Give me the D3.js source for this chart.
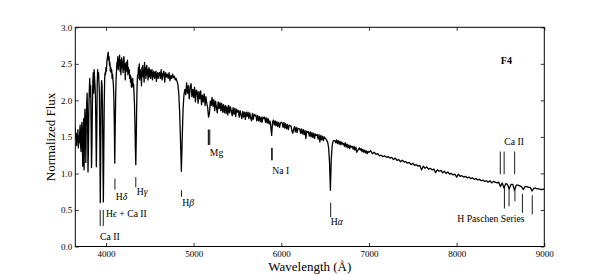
<!DOCTYPE html>
<html>
<head>
<meta charset="utf-8">
<script src="https://cdn.jsdelivr.net/npm/d3@7"></script>
<style>
  html, body { margin: 0; padding: 0; background: #fff; }
  svg { display: block; }
  text { font-family: "Liberation Serif", "DejaVu Serif", serif; fill: #000; }
</style>
</head>
<body>
<div id="chart"></div>
<script>
// ---------------- DATA ----------------
const blueStart = 3650, blueStep = 5;
const fluxBlue = [
  1.62,1.48,1.55,1.38,1.52,1.44,1.60,1.35,1.50,1.42,
  1.56,1.66,1.40,1.30,1.58,1.70,1.45,1.10,1.52,1.75,
  1.05,1.60,1.88,1.70,1.15,1.65,1.95,2.10,1.75,1.02,
  1.35,1.90,2.15,2.30,2.05,2.20,1.70,1.08,1.40,1.95,
  2.25,2.38,2.10,2.42,2.30,2.20,2.05,1.60,1.09,1.55,
  2.20,2.42,2.30,2.38,2.25,2.10,1.40,0.60,1.30,2.05,
  2.27,2.20,1.90,1.20,0.61,1.25,1.95,2.30,2.38,2.35,
  2.45,2.40,2.52,2.58,2.62,2.66,2.55,2.60,2.48,2.52,
  2.40,2.45,2.38,2.42,2.30,2.36,2.28,2.20,2.02,1.68,
  1.14,1.62,2.00,2.28,2.40,2.52,2.45,2.60,2.42,2.55,
  2.48,2.62,2.40,2.55,2.35,2.50,2.58,2.45,2.52,2.38,
  2.55,2.60,2.42,2.50,2.28,2.45,2.52,2.40,2.48,2.55,
  2.35,2.45,2.38,2.42,2.30,2.35,2.25,2.32,2.18,2.28,
  2.20,2.30,2.18,2.22,2.10,1.95,1.70,1.35,1.12,1.45,
  1.90,2.20,2.35,2.30,2.45,2.35,2.50,2.28,2.42,2.38,
  2.38,2.20,2.45,2.35,2.48,2.32,2.40,2.25,2.52,2.38,
  2.45,2.30,2.40,2.48,2.35,2.42,2.28,2.40,2.45,2.32,
  2.38,2.42,2.30,2.40,2.35,2.42,2.28,2.38,2.32,2.40,
  2.36,2.30,2.38,2.34,2.40,2.26,2.36,2.32,2.38,2.30,
  2.35
];
const greenStart = 4610, greenStep = 10;
const fluxGreen = [
  2.38,2.30,2.42,2.28,2.36,2.40,2.25,2.38,2.32,2.36,
  2.30,2.38,2.27,2.34,2.30,2.36,2.31,2.33,2.28,2.30,
  2.26,2.22,2.10,1.85,1.45,1.03,1.50,1.90,2.08,2.15,
  2.08,2.24,2.10,2.20,2.02,2.18,2.23,2.05,2.15,2.04,
  2.18,1.98,2.14,2.12,1.96,2.12,2.02,2.13,1.94,2.07,
  1.98,2.09,1.93,2.05,1.96,1.90,1.77,1.82,1.99,1.93,
  2.04,1.92,2.01,1.86,1.99,1.90,1.83,1.98,1.89,1.97,
  1.86,1.96,1.84,1.94,1.83,1.93,1.82,1.92,1.80,1.93,
  1.83,1.91,1.85,1.79,1.90,1.81,1.89,1.78,1.88,1.84,
  1.86,1.77,1.86,1.80,1.75,1.85,1.77,1.84,1.74,1.84,
  1.78,1.84,1.75,1.83,1.76,1.72,1.82,1.74,1.81,1.79,
  1.80,1.72,1.79,1.72,1.78,1.71,1.77,1.70,1.77,1.75,
  1.77,1.70,1.76,1.69,1.75,1.68,1.72,1.64,1.52,1.70,
  1.73,1.66,1.72,1.65,1.71,1.64,1.70,1.63,1.69,1.70,
  1.69,1.63,1.70,1.62,1.68,1.61,1.67,1.60,1.66,1.65,
  1.65,1.59,1.55,1.60,1.64,1.57,1.63,1.56,1.62,1.61,
  1.61,1.55,1.61,1.54,1.60,1.53,1.59,1.48,1.58,1.56,
  1.57,1.51,1.57,1.50,1.56,1.49,1.55,1.48,1.54,1.52,
  1.53,1.47,1.53,1.43,1.52,1.46,1.51,1.45,1.50,1.48,
  1.47,1.45,1.42,1.35,1.15,0.77,1.20,1.38,1.44,1.45,
  1.45,1.42,1.46,1.41,1.45,1.40,1.44,1.39,1.43,1.40,
  1.41,1.37,1.42,1.36,1.40,1.35,1.39,1.34,1.38,1.36,
  1.37,1.33,1.37,1.32,1.36,1.29,1.31,1.33,1.35,1.32,
  1.34,1.30,1.33,1.29,1.32,1.28,1.31,1.27,1.30,1.29
];
const redStart = 7020, redStep = 20;
const fluxRed = [
  1.31,1.27,1.29,1.26,1.27,1.24,1.25,1.23,1.24,1.22,
  1.23,1.21,1.22,1.19,1.21,1.18,1.19,1.16,1.18,1.16,
  1.16,1.14,1.15,1.12,1.14,1.11,1.12,1.10,1.11,1.05,
  1.10,1.07,1.09,1.06,1.07,1.05,1.06,1.01,1.05,1.03,
  1.04,1.01,1.03,1.00,1.02,0.99,1.00,0.98,0.99,0.95,
  0.99,0.96,0.97,0.95,0.96,0.94,0.95,0.93,0.94,0.92,
  0.93,0.91,0.92,0.90,0.91,0.89,0.90,0.88,0.90,0.87,
  0.89,0.88,0.87,0.88,0.82,0.87,0.80,0.86,0.85,0.79,
  0.85,0.85,0.77,0.84,0.84,0.83,0.82,0.78,0.82,0.82,
  0.81,0.81,0.76,0.80,0.80,0.79,0.79,0.78,0.78,0.79
];

// Line identification marks: wavelength, flux span
const lineMarks = [
  { wl: 3934, lo: 0.28, hi: 0.50 }, { wl: 3969, lo: 0.28, hi: 0.50 },
  { wl: 4102, lo: 0.78, hi: 0.93 },
  { wl: 4340, lo: 0.81, hi: 0.95 },
  { wl: 4861, lo: 0.68, hi: 0.77 },
  { wl: 5167, lo: 1.39, hi: 1.60 }, { wl: 5173, lo: 1.39, hi: 1.60 }, { wl: 5184, lo: 1.39, hi: 1.60 },
  { wl: 5890, lo: 1.18, hi: 1.35 }, { wl: 5896, lo: 1.18, hi: 1.35 },
  { wl: 6563, lo: 0.40, hi: 0.60 },
  { wl: 8498, lo: 0.99, hi: 1.30 }, { wl: 8542, lo: 0.99, hi: 1.30 }, { wl: 8662, lo: 0.99, hi: 1.30 },
  { wl: 8545, lo: 0.52, hi: 0.80 }, { wl: 8598, lo: 0.55, hi: 0.80 }, { wl: 8665, lo: 0.62, hi: 0.78 },
  { wl: 8750, lo: 0.46, hi: 0.72 }, { wl: 8863, lo: 0.44, hi: 0.70 }
];

// Labels: [plain prefix, italic greek, plain suffix], anchored at (wavelength, flux)
const lineLabels = [
  { pre: "Ca II", greek: "", post: "", wl: 3932, f: 0.09 },
  { pre: "H", greek: "\u03F5", post: " + Ca II", wl: 4000, f: 0.40 },
  { pre: "H", greek: "\u03B4", post: "", wl: 4110, f: 0.635 },
  { pre: "H", greek: "\u03B3", post: "", wl: 4350, f: 0.70 },
  { pre: "H", greek: "\u03B2", post: "", wl: 4870, f: 0.55 },
  { pre: "Mg", greek: "", post: "", wl: 5185, f: 1.24 },
  { pre: "Na I", greek: "", post: "", wl: 5897, f: 0.99 },
  { pre: "H", greek: "\u03B1", post: "", wl: 6565, f: 0.29 },
  { pre: "Ca II", greek: "", post: "", wl: 8543, f: 1.39 },
  { pre: "H Paschen Series", greek: "", post: "", wl: 8007, f: 0.34 }
];

const xTicks = [4000, 5000, 6000, 7000, 8000, 9000];
const yTicks = [0.0, 0.5, 1.0, 1.5, 2.0, 2.5, 3.0];
const spectralType = "F4";
const xTitle = "Wavelength (\u00C5)";
const yTitle = "Normalized Flux";

// ---------------- CHART ----------------
const W = 605, H = 275;
const plot = { left: 75.3, right: 544.3, top: 27.3, bottom: 246.5 };

const svg = d3.select("#chart").append("svg").attr("width", W).attr("height", H);

const x = d3.scaleLinear().domain([3650, 9000]).range([plot.left, plot.right]);
const y = d3.scaleLinear().domain([0, 3]).range([plot.bottom, plot.top]);

const spectrum = [];
fluxBlue.forEach((f, i) => spectrum.push([blueStart + i * blueStep, f]));
fluxGreen.forEach((f, i) => spectrum.push([greenStart + i * greenStep, f]));
fluxRed.forEach((f, i) => spectrum.push([redStart + i * redStep, f]));

svg.append("defs").append("clipPath").attr("id", "clip")
  .append("rect").attr("x", plot.left).attr("y", plot.top)
  .attr("width", plot.right - plot.left).attr("height", plot.bottom - plot.top);

svg.append("path")
  .datum(spectrum)
  .attr("clip-path", "url(#clip)")
  .attr("fill", "none")
  .attr("stroke", "#000")
  .attr("stroke-width", 1.3)
  .attr("stroke-linejoin", "round")
  .attr("d", d3.line().x(d => x(d[0])).y(d => y(d[1])));

// line marks
svg.append("g").selectAll("line").data(lineMarks).join("line")
  .attr("x1", d => x(d.wl)).attr("x2", d => x(d.wl))
  .attr("y1", d => y(d.lo)).attr("y2", d => y(d.hi))
  .attr("stroke", "#000").attr("stroke-width", 0.9);

// labels
const lbl = svg.append("g").selectAll("text").data(lineLabels).join("text")
  .attr("x", d => x(d.wl)).attr("y", d => y(d.f))
  .attr("font-size", 9.7);
lbl.append("tspan").text(d => d.pre);
lbl.filter(d => d.greek).append("tspan").attr("font-style", "italic").text(d => d.greek);
lbl.filter(d => d.post).append("tspan").text(d => d.post);

svg.append("text")
  .attr("x", x(8504)).attr("y", y(2.50))
  .attr("font-size", 10).attr("font-weight", "bold")
  .text(spectralType);

// axes
const tick = 3.5;
const gx = svg.append("g").attr("transform", `translate(0,${plot.bottom})`)
  .call(d3.axisBottom(x).tickValues(xTicks).tickFormat(d3.format("d"))
    .tickSize(-tick).tickSizeOuter(0).tickPadding(4));
const gxt = svg.append("g").attr("transform", `translate(0,${plot.top})`)
  .call(d3.axisTop(x).tickValues(xTicks).tickFormat("").tickSize(-tick).tickSizeOuter(0));
const gy = svg.append("g").attr("transform", `translate(${plot.left},0)`)
  .call(d3.axisLeft(y).tickValues(yTicks).tickFormat(d3.format(".1f"))
    .tickSize(-tick).tickSizeOuter(0).tickPadding(3));
const gyr = svg.append("g").attr("transform", `translate(${plot.right},0)`)
  .call(d3.axisRight(y).tickValues(yTicks).tickFormat("").tickSize(-tick).tickSizeOuter(0));

[gx, gxt, gy, gyr].forEach(g => {
  g.select(".domain").remove();
  g.selectAll(".tick line").attr("stroke", "#000").attr("stroke-width", 0.8);
  g.selectAll("text").attr("font-size", 9).attr("fill", "#000")
    .attr("font-family", '"Liberation Serif", "DejaVu Serif", serif');
});

svg.append("rect")
  .attr("x", plot.left).attr("y", plot.top)
  .attr("width", plot.right - plot.left).attr("height", plot.bottom - plot.top)
  .attr("fill", "none").attr("stroke", "#000").attr("stroke-width", 1);

svg.append("text")
  .attr("x", (plot.left + plot.right) / 2).attr("y", 271)
  .attr("text-anchor", "middle").attr("font-size", 13)
  .text(xTitle);

svg.append("text")
  .attr("transform", `translate(54.5,${(plot.top + plot.bottom) / 2}) rotate(-90)`)
  .attr("text-anchor", "middle").attr("font-size", 13)
  .text(yTitle);
</script>
</body>
</html>
